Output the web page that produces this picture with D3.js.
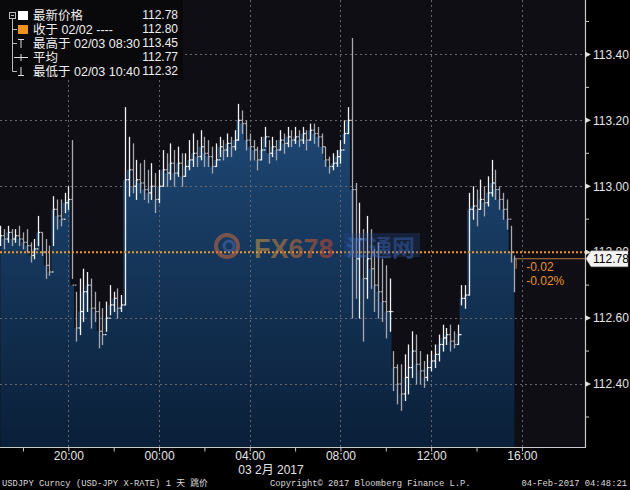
<!DOCTYPE html>
<html><head><meta charset="utf-8">
<script src="https://cdn.jsdelivr.net/npm/d3@7"></script>
<style>html,body{margin:0;padding:0;background:#000;} svg{display:block}</style>
</head><body><svg id="c" width="630" height="490"></svg>
<script>
// ---- data (USDJPY, 10-minute bars from 02/02 17:00) ----
const startTime = [2017, 1, 2, 17, 0];
const barMinutes = 10;
const highs = [
 112.88,112.87,112.88,112.87,112.87,112.88,112.86,112.87,112.83,112.84,
 112.91,112.86,112.84,112.82,112.97,112.96,112.96,112.98,113.00,113.14,
 112.68,112.72,112.75,112.74,112.72,112.68,112.65,112.63,112.65,112.70,
 112.68,112.69,112.67,113.24,113.15,113.13,113.08,113.07,113.08,113.05,
 113.07,113.04,113.05,113.11,113.10,113.13,113.11,113.12,113.10,113.10,
 113.14,113.16,113.14,113.17,113.15,113.14,113.12,113.13,113.15,113.14,
 113.16,113.15,113.17,113.25,113.23,113.20,113.16,113.14,113.12,113.15,
 113.18,113.14,113.15,113.14,113.17,113.16,113.18,113.17,113.18,113.17,
 113.18,113.17,113.19,113.19,113.18,113.16,113.12,113.09,113.10,113.11,
 113.14,113.20,113.24,113.45,113.01,112.95,112.87,112.91,112.87,112.81,
 112.83,112.78,112.76,112.72,112.50,112.46,112.46,112.49,112.52,112.56,
 112.55,112.50,112.47,112.49,112.50,112.52,112.55,112.58,112.57,112.58,
 112.56,112.58,112.70,112.70,112.98,113.00,112.99,113.02,113.00,113.03,
 113.08,113.05,113.00,112.98,112.96,112.88,112.79];
const lows = [
 112.82,112.81,112.83,112.82,112.83,112.82,112.81,112.80,112.77,112.78,
 112.82,112.79,112.72,112.73,112.82,112.87,112.88,112.92,112.93,112.72,
 112.53,112.55,112.59,112.62,112.57,112.59,112.51,112.52,112.56,112.61,
 112.62,112.60,112.62,112.64,112.97,112.98,112.96,112.98,112.96,112.95,
 112.96,112.92,112.95,113.00,113.00,113.02,113.00,113.03,113.00,113.03,
 113.05,113.06,113.06,113.08,113.06,113.06,113.04,113.06,113.09,113.08,
 113.09,113.09,113.11,113.14,113.16,113.11,113.08,113.08,113.05,113.08,
 113.12,113.07,113.09,113.08,113.11,113.10,113.12,113.12,113.13,113.12,
 113.13,113.11,113.14,113.13,113.12,113.10,113.06,113.04,113.05,113.06,
 113.07,113.13,113.16,112.60,112.66,112.60,112.53,112.66,112.69,112.62,
 112.60,112.59,112.54,112.56,112.38,112.34,112.32,112.35,112.37,112.42,
 112.40,112.40,112.39,112.41,112.44,112.45,112.47,112.50,112.52,112.50,
 112.51,112.52,112.64,112.63,112.67,112.90,112.88,112.93,112.91,112.94,
 112.97,112.96,112.93,112.90,112.87,112.77,112.68];
const closes = [
 112.85,112.84,112.86,112.84,112.85,112.84,112.83,112.82,112.79,112.81,
 112.86,112.80,112.76,112.74,112.93,112.91,112.90,112.95,112.96,112.70,
 112.57,112.62,112.68,112.70,112.63,112.62,112.56,112.55,112.60,112.64,
 112.66,112.63,112.64,113.02,113.05,113.00,113.02,113.01,112.99,112.98,
 113.00,112.96,113.00,113.05,113.04,113.07,113.04,113.07,113.03,113.06,
 113.08,113.10,113.09,113.12,113.10,113.09,113.06,113.08,113.12,113.11,
 113.13,113.12,113.14,113.20,113.19,113.14,113.12,113.11,113.08,113.11,
 113.15,113.10,113.12,113.11,113.14,113.13,113.15,113.14,113.15,113.14,
 113.16,113.14,113.17,113.16,113.15,113.12,113.08,113.06,113.07,113.09,
 113.11,113.16,113.20,112.99,112.78,112.84,112.72,112.78,112.75,112.70,
 112.68,112.65,112.62,112.62,112.45,112.40,112.37,112.42,112.45,112.50,
 112.46,112.44,112.42,112.45,112.47,112.49,112.52,112.54,112.55,112.53,
 112.52,112.55,112.66,112.67,112.93,112.94,112.93,112.96,112.95,112.98,
 113.01,112.99,112.96,112.93,112.90,112.80,112.78];
const yMajorTicks = [112.40, 112.60, 112.80, 113.00, 113.20, 113.40];
const yMinorTicks = [112.30, 112.50, 112.70, 112.90, 113.10, 113.30, 113.50];
const prevClose = 112.80;
const lastPrice = 112.78;
const legendRows = [
  {label: "最新价格", value: "112.78"},
  {label: "收于 02/02 ----", value: "112.80"},
  {label: "最高于 02/03 08:30", value: "113.45"},
  {label: "平均", value: "112.77"},
  {label: "最低于 02/03 10:40", value: "112.32"}
];
const changeLabels = ["-0.02", "-0.02%"];
const dateLabel = "03 2月 2017";
const footerLeft = "USDJPY Curncy (USD-JPY X-RATE) 1 天  跳价";
const footerMid = "Copyright© 2017 Bloomberg Finance L.P.";
const footerRight = "04-Feb-2017 04:48:21";

// ---- layout ----
const W = 630, H = 490, plotR = 585, plotB = 447;
const svg = d3.select("#c");
const FONT = "'Liberation Sans', Arial, 'Noto Sans CJK SC', sans-serif";

svg.append("rect").attr("width", W).attr("height", H).attr("fill", "#000");
svg.append("rect").attr("x", 0).attr("y", 0).attr("width", plotR).attr("height", plotB).attr("fill", "#0e0e14");

const t0 = new Date(...startTime);
const times = closes.map((_, i) => new Date(t0.getTime() + i * barMinutes * 60000));
const x = d3.scaleTime().domain([t0, new Date(2017, 1, 3, 18, 47)]).range([0.3, plotR]);
const y = d3.scaleLinear().domain([112.209, 113.565]).range([plotB, 0]);

const defs = svg.append("defs");
const g = defs.append("linearGradient").attr("id", "fillg").attr("gradientUnits", "userSpaceOnUse")
  .attr("x1", 0).attr("x2", 0).attr("y1", 100).attr("y2", plotB);
g.append("stop").attr("offset", 0).attr("stop-color", "#1f4a78");
g.append("stop").attr("offset", 1).attr("stop-color", "#0a1f38");
const wg = defs.append("linearGradient").attr("id", "wmg").attr("x1", 0).attr("x2", 1).attr("y1", 0).attr("y2", 0);
wg.append("stop").attr("offset", 0).attr("stop-color", "#c8a040");
wg.append("stop").attr("offset", 1).attr("stop-color", "#c84030");
const ty = y(lastPrice);
defs.append("clipPath").attr("id", "abovetag").append("rect")
  .attr("x", plotR).attr("y", 0).attr("width", W - plotR).attr("height", ty - 8);

// area (close)
const bw = x(times[1]) - x(times[0]);
const area = d3.area().x(d => x(d.t)).y0(plotB).y1(d => y(d.c)).curve(d3.curveStep);
const areaData = times.map((t, i) => ({t, c: closes[i]}));
svg.append("path").datum(areaData).attr("d", area).attr("fill", "url(#fillg)");

// grid
const gridTimes = [20, 24, 28, 32, 36, 40].map(h => new Date(2017, 1, 2, h, 0));
svg.append("g").selectAll("line").data(gridTimes).join("line")
  .attr("x1", d => Math.round(x(d)) + 0.5).attr("x2", d => Math.round(x(d)) + 0.5)
  .attr("y1", 0).attr("y2", plotB)
  .attr("stroke", "#666673").attr("stroke-width", 1).attr("stroke-dasharray", "2,3");
svg.append("g").selectAll("line").data(yMajorTicks.filter(v => v !== prevClose)).join("line")
  .attr("x1", 0).attr("x2", plotR)
  .attr("y1", d => Math.round(y(d)) + 0.5).attr("y2", d => Math.round(y(d)) + 0.5)
  .attr("stroke", "#666673").attr("stroke-width", 1).attr("stroke-dasharray", "2,3");

// bars
const bars = svg.append("g");
times.forEach((t, i) => {
  const xi = Math.round(x(t)) + 0.5;
  const up = i === 0 || closes[i] >= closes[i - 1];
  const col = up ? "#f2f2f2" : "#a8a8b0";
  bars.append("line").attr("x1", xi).attr("x2", xi)
    .attr("y1", y(highs[i])).attr("y2", y(lows[i]) + 0.5)
    .attr("stroke", col).attr("stroke-width", 1.3);
  bars.append("line").attr("x1", xi).attr("x2", xi + 1.8)
    .attr("y1", y(closes[i])).attr("y2", y(closes[i]))
    .attr("stroke", col).attr("stroke-width", 1.2);
  if (i > 0) bars.append("line").attr("x1", xi - 1.8).attr("x2", xi)
    .attr("y1", y(closes[i - 1])).attr("y2", y(closes[i - 1]))
    .attr("stroke", col).attr("stroke-width", 1.2);
});

// previous close dotted line
svg.append("line").attr("x1", 0).attr("x2", plotR)
  .attr("y1", y(prevClose)).attr("y2", y(prevClose))
  .attr("stroke", "#f0962a").attr("stroke-width", 2).attr("stroke-dasharray", "2,2");

// last price line
const lastX = x(times[times.length - 1]) + bw / 2;
svg.append("line").attr("x1", lastX).attr("x2", plotR)
  .attr("y1", ty).attr("y2", ty)
  .attr("stroke", "#b87a38").attr("stroke-width", 1.2);
svg.append("line").attr("x1", lastX).attr("x2", lastX)
  .attr("y1", ty).attr("y2", ty + 10)
  .attr("stroke", "#b87a38").attr("stroke-width", 1);
svg.append("g").selectAll("text").data(changeLabels).join("text")
  .attr("x", lastX + 10).attr("y", (d, i) => ty + 12 + i * 14)
  .attr("fill", "#e8922e").attr("font-family", FONT).attr("font-size", 12).text(d => d);

// axes
svg.append("line").attr("x1", plotR + 0.5).attr("x2", plotR + 0.5).attr("y1", 0).attr("y2", plotB + 1)
  .attr("stroke", "#c8c8c8").attr("stroke-width", 1.2);
svg.append("line").attr("x1", 0).attr("x2", plotR + 1).attr("y1", plotB + 0.5).attr("y2", plotB + 0.5)
  .attr("stroke", "#c8c8c8").attr("stroke-width", 1.2);

const yAx = svg.append("g");
yAx.selectAll("path.maj").data(yMajorTicks).join("path").attr("class", "maj")
  .attr("d", d => `M${plotR},${y(d) - 3}L${plotR + 6},${y(d)}L${plotR},${y(d) + 3}Z`)
  .attr("fill", "#e0e0e0");
yAx.selectAll("line.min").data(yMinorTicks).join("line").attr("class", "min")
  .attr("x1", plotR).attr("x2", plotR + 4).attr("y1", d => y(d)).attr("y2", d => y(d))
  .attr("stroke", "#c8c8c8");
yAx.selectAll("text").data(yMajorTicks).join("text")
  .attr("x", plotR + 8).attr("y", d => y(d)).attr("dy", "0.36em")
  .attr("clip-path", d => d === prevClose ? "url(#abovetag)" : null)
  .attr("fill", "#e4e4e4").attr("font-family", FONT).attr("font-size", 12)
  .text(d => d3.format(".2f")(d));

// x ticks
const xTickTimes = d3.range(18, 42, 2).map(h => new Date(2017, 1, 2, h, 0));
const xAxis = d3.axisBottom(x).tickValues(xTickTimes).tickSize(4)
  .tickFormat(d => d.getHours() % 4 === 0 ? d3.timeFormat("%H:%M")(d) : "");
const xg = svg.append("g").attr("transform", `translate(0,${plotB + 0.5})`).call(xAxis);
xg.select(".domain").remove();
xg.selectAll(".tick line").attr("stroke", "#c8c8c8");
xg.selectAll(".tick text").attr("fill", "#e4e4e4").attr("font-family", FONT).attr("font-size", 12)
  .attr("y", 12).attr("dy", null);
svg.append("text").attr("x", 271).attr("y", 474).attr("text-anchor", "middle")
  .attr("fill", "#e4e4e4").attr("font-family", FONT).attr("font-size", 12).text(dateLabel);

// last price tag
svg.append("path")
  .attr("d", `M${plotR + 1},${ty}L${plotR + 6},${ty - 8}L628,${ty - 8}L628,${ty + 8}L${plotR + 6},${ty + 8}Z`)
  .attr("fill", "#f4f4f4").attr("stroke", "#999").attr("stroke-width", 0.5);
svg.append("text").attr("x", plotR + 8).attr("y", ty).attr("dy", "0.36em")
  .attr("fill", "#000").attr("font-family", FONT).attr("font-size", 12).text(d3.format(".2f")(lastPrice));

// watermark
const wm = svg.append("g").attr("opacity", 0.55);
wm.append("circle").attr("cx", 227).attr("cy", 246).attr("r", 11).attr("fill", "none")
  .attr("stroke", "#c86a40").attr("stroke-width", 4);
wm.append("circle").attr("cx", 229).attr("cy", 246).attr("r", 5).attr("fill", "none")
  .attr("stroke", "#4a6ab0").attr("stroke-width", 3);
wm.append("text").attr("x", 254).attr("y", 258).attr("font-family", FONT).attr("font-weight", "bold")
  .attr("font-size", 27).attr("fill", "url(#wmg)").text("FX678");
wm.append("rect").attr("x", 344).attr("y", 233).attr("width", 76).attr("height", 24).attr("fill", "#2a4a88").attr("opacity", 0.6);
wm.append("text").attr("x", 346).attr("y", 256).attr("font-family", "'Noto Sans CJK SC'").attr("font-weight", "bold")
  .attr("font-size", 23).attr("fill", "#3a6ac0").text("汇通网");

// legend
const lg = svg.append("g");
lg.append("rect").attr("x", 0).attr("y", 0).attr("width", 183).attr("height", 80).attr("fill", "#09090b");
const rowY = [15, 29, 43, 57, 71];
lg.append("path").attr("d", `M12.5,19V71.5H17 M12.5,29.5H17 M12.5,43.5H17`).attr("fill", "none").attr("stroke", "#bbb");
lg.append("rect").attr("x", 9.5).attr("y", 12.5).attr("width", 6).attr("height", 6).attr("fill", "none").attr("stroke", "#bbb");
lg.append("line").attr("x1", 11).attr("x2", 14).attr("y1", 15.5).attr("y2", 15.5).attr("stroke", "#bbb");
lg.append("rect").attr("x", 18).attr("y", 11).attr("width", 10).attr("height", 9).attr("fill", "#ffffff");
lg.append("rect").attr("x", 18).attr("y", 25).attr("width", 10).attr("height", 9).attr("fill", "#f0921e");
lg.append("path").attr("d", "M18,39.5H24 M21,39.5V48").attr("stroke", "#ddd").attr("fill", "none");
lg.append("path").attr("d", "M14,57.5H28 M21,54V61").attr("stroke", "#ddd").attr("fill", "none");
lg.append("path").attr("d", "M18,75.5H24 M21,67V75.5").attr("stroke", "#ddd").attr("fill", "none");
lg.selectAll("text.l").data(legendRows).join("text").attr("class", "l")
  .attr("x", 33).attr("y", (d, i) => rowY[i]).attr("dy", "0.36em")
  .attr("fill", "#eeeeee").attr("font-family", FONT).attr("font-size", 12.5).text(d => d.label);
lg.selectAll("text.v").data(legendRows).join("text").attr("class", "v")
  .attr("x", 178).attr("y", (d, i) => rowY[i]).attr("dy", "0.36em").attr("text-anchor", "end")
  .attr("fill", "#eeeeee").attr("font-family", FONT).attr("font-size", 12).text(d => d.value);

// footer
const MONO = "'Liberation Mono', 'DejaVu Sans Mono', 'Noto Sans CJK SC', monospace";
const footer = [
  {t: footerLeft, x: 2, anchor: "start"},
  {t: footerMid, x: 270, anchor: "start"},
  {t: footerRight, x: 627, anchor: "end"}
];
svg.append("g").selectAll("text").data(footer).join("text")
  .attr("x", d => d.x).attr("y", 486).attr("text-anchor", d => d.anchor)
  .attr("font-family", MONO).attr("font-size", 8.8)
  .attr("fill", "#d8d8d8").text(d => d.t);
</script></body></html>
